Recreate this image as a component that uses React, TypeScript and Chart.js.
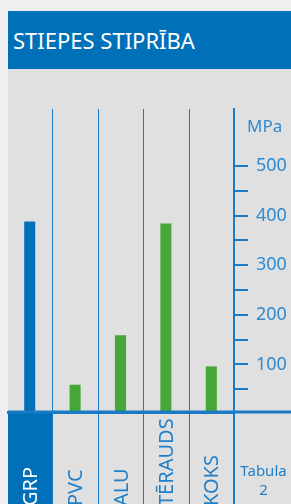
import React, { useEffect, useRef } from "react";
import { Chart, registerables } from "chart.js";

Chart.register(...registerables);

const TITLE = "STIEPES STIPRĪBA";
const UNIT = "MPa";
const categories = ["GRP", "PVC", "ALU", "TĒRAUDS", "KOKS"];
const strengthValues = [388, 59, 159, 384, 96];
const tickLabels = [100, 200, 300, 400, 500];
const tableLines = ["Tabula", "2"];

const HEADER_BLUE = "#0070b8";
const LINE_BLUE = "#1b7ac6";
const LABEL_BLUE = "#1f7fc8";
const TICK_BLUE = "#2f8ad0";
const GREEN = "#45a735";
const FONT = '"Noto Sans", sans-serif';

const decorPlugin = {
  id: "decor",
  beforeDatasetsDraw(chart: any) {
    const { ctx, chartArea, scales } = chart;
    const x = scales.x;
    const H = chart.height;
    const half = (x.getPixelForValue(1) - x.getPixelForValue(0)) / 2;
    ctx.save();
    ctx.fillStyle = LINE_BLUE;
    for (let i = 1; i < categories.length; i++) {
      const bx = Math.round(x.getPixelForValue(i) - half);
      ctx.fillRect(bx, chartArea.top, 1, H - chartArea.top);
    }
    ctx.fillRect(Math.round(chartArea.right) - 1, chartArea.top, 2, H - chartArea.top);
    ctx.restore();
  },
  afterDraw(chart: any) {
    const { ctx, chartArea, scales } = chart;
    const x = scales.x;
    const W = chart.width;
    const H = chart.height;
    const half = (x.getPixelForValue(1) - x.getPixelForValue(0)) / 2;
    ctx.save();
    // highlighted first category label box
    const c0 = x.getPixelForValue(0);
    const left = Math.max(c0 - half, 1);
    ctx.fillStyle = HEADER_BLUE;
    ctx.fillRect(left, chartArea.bottom, Math.round(c0 + half) - left, H - chartArea.bottom);
    // bottom line across full width
    ctx.strokeStyle = LINE_BLUE;
    ctx.lineWidth = 3;
    ctx.beginPath();
    ctx.moveTo(1, chartArea.bottom);
    ctx.lineTo(W, chartArea.bottom);
    ctx.stroke();
    // rotated category labels
    ctx.font = `20px ${FONT}`;
    categories.forEach((c, i) => {
      const px = x.getPixelForValue(i);
      ctx.save();
      ctx.translate(px + 7, H + 2);
      ctx.rotate(-Math.PI / 2);
      ctx.textAlign = "left";
      ctx.textBaseline = "alphabetic";
      ctx.fillStyle = i === 0 ? "#ffffff" : LABEL_BLUE;
      ctx.fillText(c, 0, 0);
      ctx.restore();
    });
    // table reference
    ctx.font = `15px ${FONT}`;
    ctx.fillStyle = LABEL_BLUE;
    ctx.textAlign = "center";
    ctx.textBaseline = "alphabetic";
    const cx = chartArea.right + (W - chartArea.right) / 2 + 1;
    ctx.fillText(tableLines[0], cx, chartArea.bottom + 64);
    ctx.fillText(tableLines[1], cx, chartArea.bottom + 83);
    // unit
    ctx.font = `17px ${FONT}`;
    ctx.fillStyle = TICK_BLUE;
    ctx.textAlign = "left";
    ctx.fillText(UNIT, chartArea.right + 13, chartArea.top + 23);
    ctx.restore();
  },
};

export default function App() {
  const ref = useRef<HTMLCanvasElement>(null);
  useEffect(() => {
    if (!ref.current) return;
    const chart = new Chart(ref.current, {
      type: "bar",
      data: {
        labels: categories,
        datasets: [
          {
            data: strengthValues,
            backgroundColor: strengthValues.map((_, i) => (i === 0 ? HEADER_BLUE : GREEN)),
            borderWidth: 0,
            barPercentage: 0.243,
            categoryPercentage: 1,
          },
        ],
      },
      options: {
        responsive: false,
        animation: false,
        layout: { padding: { top: 40, left: 0, right: 0, bottom: 0 } },
        plugins: { legend: { display: false }, tooltip: { enabled: false }, title: { display: false } },
        scales: {
          x: {
            type: "category",
            offset: true,
            grid: {
              display: true,
              offset: true,
              drawOnChartArea: false,
              drawTicks: true,
              tickLength: 92,
              color: "rgba(0,0,0,0)",
              tickColor: "rgba(0,0,0,0)",
            },
            border: { display: true, color: LINE_BLUE, width: 3 },
            ticks: { display: false },
          },
          y: {
            position: "right",
            min: 4,
            max: 615,
            afterBuildTicks: (scale: any) => {
              const vals: number[] = [];
              tickLabels.forEach((t) => {
                vals.push(t - 50, t);
              });
              scale.ticks = vals.map((v) => ({ value: v }));
            },
            afterFit: (scale: any) => {
              scale.width = 57;
            },
            grid: {
              display: true,
              drawOnChartArea: false,
              drawTicks: true,
              tickLength: 14,
              color: LINE_BLUE,
              tickColor: LINE_BLUE,
              lineWidth: 2,
              tickWidth: 2,
            },
            border: { display: true, color: LINE_BLUE, width: 2 },
            ticks: {
              padding: 8,
              color: TICK_BLUE,
              font: { family: FONT, size: 18 },
              callback: (v: any) => (tickLabels.includes(Number(v)) ? String(v) : ""),
            },
          },
        },
      },
      plugins: [decorPlugin],
    });
    return () => chart.destroy();
  }, []);

  return (
    <div style={{ position: "fixed", inset: 0, background: "#efefef", overflow: "hidden" }}>
      <div
        style={{
          position: "absolute",
          left: 8,
          top: 11,
          right: 0,
          height: 58,
          background: HEADER_BLUE,
          color: "#ffffff",
          font: `22px ${FONT}`,
          lineHeight: "58px",
          paddingLeft: 5,
          boxSizing: "border-box",
          whiteSpace: "nowrap",
        }}
      >
        {TITLE}
      </div>
      <div style={{ position: "absolute", left: 8, top: 69, right: 0, bottom: 0, background: "#e0e0e0" }} />
      <div style={{ position: "absolute", left: 7, top: 69, width: 284, height: 435 }}>
        <canvas ref={ref} width={284} height={435} style={{ display: "block", width: 284, height: 435 }} />
      </div>
    </div>
  );
}
